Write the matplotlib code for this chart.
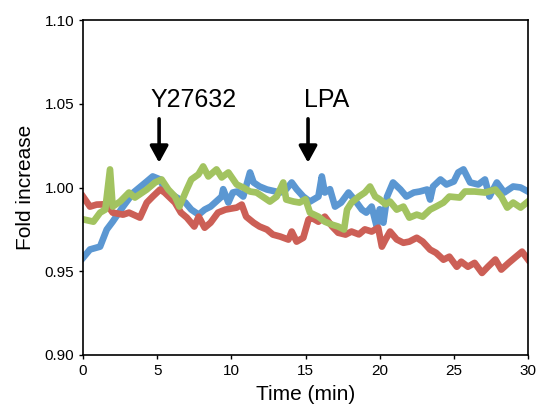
import matplotlib
matplotlib.use("Agg")
import matplotlib.pyplot as plt

plt.rcParams['font.family'] = ['Liberation Sans', 'DejaVu Sans']

t_blue = [0, 0.47, 1.15, 1.6, 2.0, 2.7, 3.4, 4.3, 4.7, 5.2, 5.5, 6.2, 6.9, 7.3, 7.8, 8.2, 8.6,
          9.35, 9.45, 9.8, 10.1, 10.4, 10.8, 11.26, 11.5, 11.9, 12.4, 12.8, 13.3, 13.7, 14.07,
          14.4, 14.85, 15.3, 15.87, 16.1, 16.3, 16.65, 16.99, 17.4, 17.9, 18.3, 18.8, 19.1,
          19.46, 19.8, 20.0, 20.25, 20.5, 20.9, 21.4, 21.8, 22.3, 22.7, 23.2, 23.4, 23.6, 24.1,
          24.5, 25.0, 25.3, 25.65, 26.1, 26.65, 27.1, 27.4, 27.9, 28.4, 29.0, 29.5, 30]
blue = [0.958, 0.963, 0.9647, 0.9749, 0.9796, 0.9886, 0.997, 1.0036, 1.0066, 1.0048, 0.9988,
        0.9946, 0.991, 0.9868, 0.9838, 0.9868, 0.9886, 0.9946, 0.999, 0.991, 0.997, 0.9976,
        0.9946, 1.009, 1.003, 1.0006, 0.9988, 0.998, 0.997, 0.999, 1.003, 0.999, 0.9946,
        0.9916, 0.9946, 1.0066, 0.997, 0.999, 0.9886, 0.991, 0.997, 0.9928, 0.9868, 0.985,
        0.9886, 0.9767, 0.987, 0.979, 0.9946, 1.003, 0.9988, 0.9946, 0.997, 0.9976, 0.9988,
        0.9928, 1.0006, 1.0048, 1.0018, 1.0036, 1.009, 1.0108, 1.003, 1.0018, 1.0048, 0.9946,
        1.003, 0.997, 1.0006, 1.0, 0.9976]

t_red = [0, 0.47, 0.92, 1.6, 2.0, 2.7, 3.1, 3.84, 4.3, 4.7, 5.2, 5.5, 6.2, 6.6, 7.0, 7.5, 7.8,
         8.2, 8.6, 9.1, 9.6, 10.1, 10.36, 10.7, 11.0, 11.5, 11.9, 12.4, 12.8, 13.3, 13.85,
         14.07, 14.4, 14.85, 15.2, 15.4, 15.87, 16.3, 16.8, 17.2, 17.7, 18.1, 18.6, 19.0,
         19.46, 19.9, 20.15, 20.4, 20.7, 21.15, 21.6, 22.0, 22.5, 22.9, 23.4, 23.8, 24.3,
         24.7, 25.2, 25.5, 25.95, 26.4, 26.9, 27.3, 27.8, 28.2, 28.7, 29.1, 29.6, 30]
red = [0.9946, 0.9886, 0.9898, 0.990, 0.985, 0.9838, 0.985, 0.982, 0.991, 0.9946, 0.9988,
       0.997, 0.991, 0.985, 0.982, 0.9767, 0.9826, 0.976, 0.979, 0.985, 0.9868, 0.9876, 0.988,
       0.9898, 0.9826, 0.979, 0.9767, 0.9749, 0.9719, 0.9707, 0.9689, 0.9737, 0.9677, 0.970,
       0.9808, 0.982, 0.9796, 0.9826, 0.9767, 0.973, 0.9719, 0.9737, 0.972, 0.975, 0.9737,
       0.976, 0.9647, 0.969, 0.9737, 0.969, 0.967, 0.9677, 0.970, 0.9677, 0.9629, 0.961,
       0.9569, 0.9587, 0.9527, 0.9557, 0.9527, 0.955, 0.949, 0.9527, 0.957, 0.951, 0.955,
       0.958, 0.9617, 0.957]

t_green = [0, 0.7, 1.15, 1.5, 1.82, 2.0, 2.5, 3.1, 3.5, 4.3, 4.86, 5.3, 5.75, 6.2, 6.5, 6.99,
           7.3, 7.78, 8.1, 8.45, 9.0, 9.35, 9.8, 10.36, 10.8, 11.26, 11.7, 12.2, 12.6, 13.06,
           13.5, 13.7, 14.2, 14.6, 15.0, 15.3, 15.87, 16.3, 16.8, 17.2, 17.6, 17.8, 18.1, 18.6,
           19.0, 19.35, 19.7, 20.0, 20.4, 20.7, 21.15, 21.6, 22.0, 22.5, 22.9, 23.4, 23.8,
           24.3, 24.7, 25.4, 25.75, 26.4, 27.1, 27.8, 28.2, 28.6, 29.0, 29.5, 30]
green = [0.981, 0.9796, 0.985, 0.9868, 1.0108, 0.9886, 0.9916, 0.997, 0.994, 0.9988, 1.003,
         1.0048, 0.9988, 0.9946, 0.9886, 0.9988, 1.0048, 1.0078, 1.0126, 1.0066, 1.0108,
         1.006, 1.009, 1.0018, 1.0, 0.9976, 0.997, 0.994, 0.9916, 0.9946, 1.003, 0.9928,
         0.9916, 0.991, 0.993, 0.985, 0.9826, 0.9796, 0.9778, 0.9767, 0.9749, 0.9868, 0.991,
         0.9946, 0.997, 1.0006, 0.9946, 0.993, 0.990, 0.9916, 0.9868, 0.9886, 0.982, 0.9838,
         0.9826, 0.9868, 0.9886, 0.991, 0.9946, 0.994, 0.9976, 0.9976, 0.997, 0.9988, 0.9946,
         0.988, 0.991, 0.988, 0.9916]

annotations = ["Y27632", "LPA"]
annot_times = [5.13, 15.17]

fig = plt.figure(figsize=(5.38, 4.17), dpi=100)
ax = fig.add_axes([0.1543, 0.1487, 0.8271, 0.8033])

lw = 4.8
ax.plot(t_blue, blue, color='#5B97D2', lw=lw, solid_joinstyle='round')
ax.plot(t_red, red, color='#CC5F56', lw=lw, solid_joinstyle='round')
ax.plot(t_green, green, color='#A2C360', lw=lw, solid_joinstyle='round')

ax.set_xlim(0, 30)
ax.set_ylim(0.90, 1.10)
ax.set_xticks([0, 5, 10, 15, 20, 25, 30])
ax.set_yticks([0.90, 0.95, 1.00, 1.05, 1.10])
ax.set_yticklabels(['0.90', '0.95', '1.00', '1.05', '1.10'])
ax.tick_params(direction='out', length=3.2, width=1, labelsize=11, colors='black', pad=3)
for s in ax.spines.values():
    s.set_linewidth(1.2)
    s.set_color('black')
ax.set_xlabel('Time (min)', fontsize=15, labelpad=5)
ax.set_ylabel('Fold increase', fontsize=15, labelpad=7)

for label, tt in zip(annotations, annot_times):
    ax.annotate('', xy=(tt, 1.0148), xytext=(tt, 1.0410),
                arrowprops=dict(arrowstyle='-|>,head_width=0.55,head_length=1.0',
                                lw=2.6, color='black', shrinkA=0, shrinkB=0))
ax.text(4.58, 1.0525, annotations[0], fontsize=18, ha='left', va='center')
ax.text(14.9, 1.0525, annotations[1], fontsize=18, ha='left', va='center')

fig.savefig('out.png', dpi=100)
